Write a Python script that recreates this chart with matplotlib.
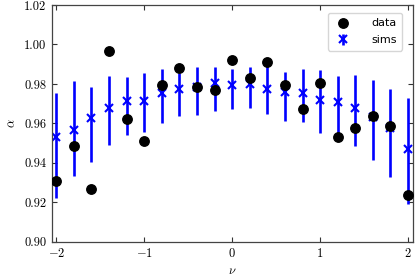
import numpy as np
import matplotlib
matplotlib.use("Agg")
import matplotlib.pyplot as plt

# valeurs
nu = [-2.0, -1.8, -1.6, -1.4, -1.2, -1.0, -0.8, -0.6, -0.4, -0.2, 0.0,
      0.2, 0.4, 0.6, 0.8, 1.0, 1.2, 1.4, 1.6, 1.8, 2.0]
data = [0.9307, 0.9486, 0.9270, 0.9966, 0.9620, 0.9510, 0.9793, 0.9879,
        0.9784, 0.9767, 0.9920, 0.9831, 0.9910, 0.9796, 0.9675, 0.9806,
        0.9533, 0.9578, 0.9637, 0.9587, 0.9238]
sims = [0.9530, 0.9565, 0.9629, 0.9680, 0.9713, 0.9713, 0.9755, 0.9772,
        0.9784, 0.9803, 0.9793, 0.9798, 0.9776, 0.9759, 0.9755, 0.9718,
        0.9710, 0.9680, 0.9634, 0.9575, 0.9472]
sims_lo = [0.9220, 0.9334, 0.9406, 0.9489, 0.9543, 0.9558, 0.9600, 0.9640,
           0.9644, 0.9664, 0.9675, 0.9676, 0.9650, 0.9612, 0.9605, 0.9553,
           0.9533, 0.9486, 0.9415, 0.9329, 0.9194]
sims_hi = [0.9756, 0.9813, 0.9787, 0.9840, 0.9835, 0.9857, 0.9874, 0.9857,
           0.9887, 0.9887, 0.9874, 0.9885, 0.9907, 0.9862, 0.9877, 0.9870,
           0.9840, 0.9847, 0.9818, 0.9776, 0.9730]

plt.rcParams['mathtext.fontset'] = 'cm'
plt.rcParams['font.family'] = 'serif'
plt.rcParams['font.serif'] = ['cmr10']
plt.rcParams['axes.formatter.use_mathtext'] = True
plt.rcParams['axes.unicode_minus'] = True

x = np.array(nu)
s = np.array(sims)
err = [s - np.array(sims_lo), np.array(sims_hi) - s]

fig = plt.figure(figsize=(4.15, 2.78), dpi=100)
ax = fig.add_axes([0.125, 0.13, 0.871, 0.852])

ax.plot(x, data, 'o', color='black', ms=6.8, label='data', zorder=3)
ax.errorbar(x, s, yerr=err, fmt='x', color='blue', ecolor='blue',
            ms=5.5, mew=1.5, elinewidth=1.9, capsize=0, label='sims', zorder=2)

ax.set_xlim(-2.05, 2.06)
ax.set_ylim(0.90, 1.02)
ax.set_xticks([-2, -1, 0, 1, 2])
ax.set_yticks(np.arange(0.90, 1.021, 0.02))
ax.set_yticklabels(['%.2f' % v for v in np.arange(0.90, 1.021, 0.02)])
ax.tick_params(direction='in', top=True, right=True, length=3.5, width=0.8,
               labelsize=9, pad=4, colors='#333333', labelcolor='black')
for sp in ax.spines.values():
    sp.set_color('#444444')
    sp.set_linewidth(0.9)

ax.set_xlabel(r'$\nu$', fontsize=9, labelpad=3)
ax.set_ylabel(r'$\alpha$', fontsize=9, labelpad=4)

leg = ax.legend(loc='upper right', prop={'family': 'DejaVu Sans', 'size': 8},
                numpoints=1, borderpad=0.5, handlelength=1.8, handletextpad=1.6,
                labelspacing=0.6, bbox_to_anchor=(0.984, 0.99))

fig.savefig('out.png', dpi=100)
